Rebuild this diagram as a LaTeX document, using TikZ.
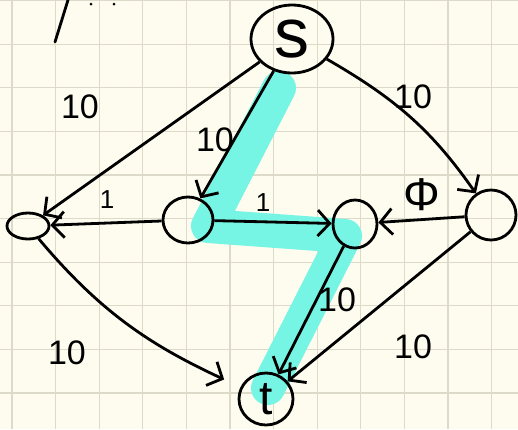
\documentclass[tikz,border=0pt]{standalone}
\usepackage{fontspec}
\setmainfont{Liberation Sans}
\usetikzlibrary{arrows.meta,shapes.geometric}
\definecolor{paper}{RGB}{253,252,238}
\definecolor{gridc}{RGB}{222,218,202}
\definecolor{marker}{RGB}{118,245,228}
\tikzset{
  vertex/.style={draw, ellipse, line width=2.8pt, inner sep=0pt},
  edge/.style={-{Straight Barb[length=12pt,width=26pt]}, line width=2.8pt},
  wlabel/.style={font=\fontsize{34}{36}\selectfont},
  unitlabel/.style={font=\fontsize{26}{28}\selectfont},
}
\begin{document}
\begin{tikzpicture}[x=1pt,y=-1pt]
\fill[paper] (0,0) rectangle (518,429);
\useasboundingbox (0,0) rectangle (518,429);
% grid paper
\foreach \i in {0,...,11} \draw[gridc, line width=1.2pt] (12+43.6*\i,0) -- (12+43.6*\i,429);
\foreach \j in {0,...,9} \draw[gridc, line width=1.2pt] (0,0.5+43.6*\j) -- (518,0.5+43.6*\j);
% stray marks top left
\draw[line width=2.8pt, line cap=round] (55,42) -- (68,0);
\fill (91,4) circle (1.5pt) (114,4) circle (1.5pt);
% highlighted path
\draw[marker, line width=34pt, line cap=round, line join=round] (279,88) -- (208,226) -- (345,236) -- (268,388);
% vertices
\node[vertex, minimum width=82pt, minimum height=68pt, font=\fontsize{70}{72}\selectfont] (s) at (292,39) {s};
\node[vertex, minimum width=42pt, minimum height=26pt] (a) at (28,226) {};
\node[vertex, minimum width=50pt, minimum height=46pt] (b) at (188,220) {};
\node[vertex, minimum width=44pt, minimum height=48pt] (c) at (355,224) {};
\node[vertex, minimum width=50pt, minimum height=50pt] (d) at (491,215) {};
\node[vertex, minimum width=54pt, minimum height=52pt, font=\fontsize{48}{50}\selectfont] (t) at (266,399) {t};
% edges
\draw[edge] (s) -- (a);
\draw[edge] (s) -- (b);
\draw[edge] (s) to[out=-30,in=125] (d);
\draw[edge] (b) -- (a);
\draw[edge] (b) -- (c);
\draw[edge] (d) -- (c);
\draw[edge, shorten >=18pt] (a) to[out=-50,in=155] (t);
\draw[edge] (c) -- (t);
\draw[edge] (d) -- (t);
% weights
\node[wlabel] (wsa) at (80,107) {10};
\node[wlabel] (wsb) at (215,140) {10};
\node[wlabel] (wsd) at (413,97) {10};
\node[unitlabel] (wba) at (107,200) {1};
\node[unitlabel] (wbc) at (263,203) {1};
\node[font=\fontsize{46}{48}\selectfont] (wdc) at (422,195) {Φ};
\node[wlabel] (wat) at (67,353) {10};
\node[wlabel] (wct) at (337,300) {10};
\node[wlabel] (wdt) at (413,347) {10};
\end{tikzpicture}
\end{document}
